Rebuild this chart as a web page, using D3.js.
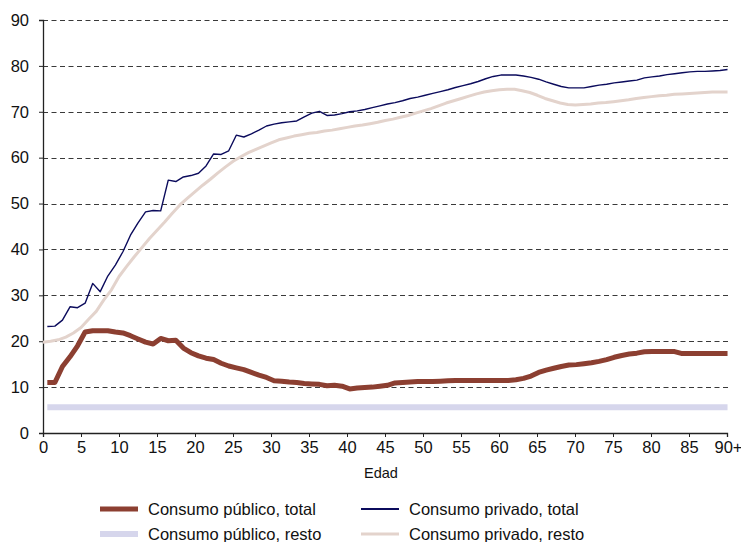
<!DOCTYPE html>
<html>
<head>
<meta charset="utf-8">
<script src="https://cdn.jsdelivr.net/npm/d3@7"></script>
<style>
  body { margin: 0; background: #fff; }
  #chart text { font-family: Arial, "Liberation Sans", sans-serif; fill: #111; }
</style>
</head>
<body>
<div id="chart"></div>
<script>

var width = 741;
var height = 542;

var marginLeft = 43;
var marginRight = 14;
var marginTop = 20;
var marginBottom = 109;

// edades 0 .. 90+
var edades = d3.range(0, 91);

var xTicks = [0,5,10,15,20,25,30,35,40,45,50,55,60,65,70,75,80,85,90];
var yTicks = [0,10,20,30,40,50,60,70,80,90];

var publicoTotal = [
	11.0,11.0,14.5,16.6,19.0,22.0,22.3,22.3,22.3,22.0,
	21.8,21.2,20.5,19.8,19.4,20.6,20.1,20.2,18.5,17.5,
	16.8,16.3,16.0,15.2,14.6,14.2,13.8,13.2,12.6,12.1,
	11.4,11.3,11.1,11.0,10.8,10.7,10.6,10.3,10.4,10.2,
	9.6,9.8,9.9,10.0,10.2,10.4,10.9,11.0,11.1,11.2,
	11.2,11.2,11.3,11.4,11.45,11.45,11.45,11.45,11.45,11.45,
	11.45,11.45,11.6,11.9,12.4,13.2,13.7,14.1,14.5,14.8,
	14.9,15.1,15.3,15.6,16.0,16.5,16.9,17.2,17.4,17.7,
	17.75,17.75,17.75,17.75,17.3,17.3,17.35,17.35,17.35,17.35,
	17.35
];

var publicoResto = [
	5.6,5.6,5.6,5.6,5.6,5.6,5.6,5.6,5.6,5.6,
	5.6,5.6,5.6,5.6,5.6,5.6,5.6,5.6,5.6,5.6,
	5.6,5.6,5.6,5.6,5.6,5.6,5.6,5.6,5.6,5.6,
	5.6,5.6,5.6,5.6,5.6,5.6,5.6,5.6,5.6,5.6,
	5.6,5.6,5.6,5.6,5.6,5.6,5.6,5.6,5.6,5.6,
	5.6,5.6,5.6,5.6,5.6,5.6,5.6,5.6,5.6,5.6,
	5.6,5.6,5.6,5.6,5.6,5.6,5.6,5.6,5.6,5.6,
	5.6,5.6,5.6,5.6,5.6,5.6,5.6,5.6,5.6,5.6,
	5.6,5.6,5.6,5.6,5.6,5.6,5.6,5.6,5.6,5.6,
	5.6
];

var privadoTotal = [
	23.2,23.3,24.6,27.5,27.3,28.3,32.6,30.8,34.2,36.6,
	39.5,43.1,45.8,48.2,48.5,48.4,55.1,54.8,55.8,56.1,
	56.6,58.2,60.8,60.7,61.5,64.9,64.5,65.2,66.0,66.9,
	67.3,67.6,67.8,68.0,68.9,69.7,70.1,69.2,69.3,69.6,
	70.0,70.2,70.5,70.9,71.3,71.7,72.0,72.4,72.9,73.2,
	73.6,74.0,74.4,74.8,75.3,75.7,76.1,76.6,77.2,77.7,
	78.0,78.0,78.0,77.8,77.5,77.1,76.5,76.0,75.5,75.2,
	75.2,75.2,75.5,75.8,76.0,76.3,76.5,76.7,76.9,77.4,
	77.6,77.8,78.1,78.3,78.5,78.7,78.8,78.8,78.9,79.0,
	79.2
];

var privadoResto = [
	19.8,20.0,20.3,20.9,21.8,23.0,24.8,26.5,29.0,31.2,
	34.1,36.3,38.4,40.4,42.4,44.2,46.0,47.9,49.7,51.2,
	52.6,54.0,55.3,56.7,58.0,59.2,60.2,61.1,61.8,62.5,
	63.2,63.9,64.3,64.7,65.0,65.3,65.5,65.8,66.0,66.3,
	66.6,66.9,67.1,67.4,67.7,68.1,68.4,68.8,69.2,69.7,
	70.2,70.7,71.3,71.9,72.4,72.9,73.4,73.9,74.3,74.6,
	74.8,74.9,74.9,74.6,74.2,73.6,72.9,72.4,71.9,71.6,
	71.5,71.6,71.7,71.9,72.0,72.2,72.4,72.6,72.9,73.1,
	73.3,73.5,73.6,73.8,73.9,74.0,74.1,74.2,74.3,74.3,
	74.3
];

var series = [
	{ nombre: 'Consumo público, resto', valores: publicoResto, color: '#d6d6ec', ancho: 6, desde: 0.57 },
	{ nombre: 'Consumo privado, resto', valores: privadoResto, color: '#e3d3cc', ancho: 3, desde: 0 },
	{ nombre: 'Consumo privado, total', valores: privadoTotal, color: '#0b0b5c', ancho: 1.4, desde: 0.57 },
	{ nombre: 'Consumo público, total', valores: publicoTotal, color: '#8c3f31', ancho: 5, desde: 0.57 }
];

var svg = d3.select('#chart')
	.append('svg')
	.attr('width', width)
	.attr('height', height)
	.style('background-color', '#fff');

var x = d3.scaleLinear()
	.domain([0, 90])
	.range([marginLeft, width - marginRight]);

var y = d3.scaleLinear()
	.domain([0, 90])
	.range([height - marginBottom, marginTop]);

// GRID
svg.append('g')
	.attr('class', 'grid')
	.selectAll('line')
	.data(yTicks.filter(function(d) { return d > 0; }))
	.enter()
	.append('line')
	.attr('x1', x(0))
	.attr('x2', x(90) + 4)
	.attr('y1', function(d) { return Math.round(y(d)) + 0.5; })
	.attr('y2', function(d) { return Math.round(y(d)) + 0.5; })
	.attr('stroke', '#3a3a3a')
	.attr('stroke-width', 1)
	.attr('stroke-dasharray', '5,3.5');

// AXIS
var yAxis = d3.axisLeft(y)
	.tickValues(yTicks)
	.tickSize(4)
	.tickPadding(10)
	.tickFormat(d3.format('d'));

var yAxisGroup = svg.append('g')
	.attr('transform', 'translate(' + x(0) + ',0)')
	.call(yAxis);

var xAxis = d3.axisBottom(x)
	.tickValues(xTicks)
	.tickSize(4)
	.tickPadding(4)
	.tickFormat(function(d) { return d === 90 ? '90+' : d; });

var xAxisGroup = svg.append('g')
	.attr('transform', 'translate(0,' + y(0) + ')')
	.call(xAxis);

[yAxisGroup, xAxisGroup].forEach(function(g) {
	g.select('.domain').attr('stroke', '#222').attr('stroke-width', 1.3);
	g.selectAll('.tick line').attr('stroke', '#222');
	g.selectAll('.tick text')
		.style('font-size', '16.5px')
		.style('font-family', 'Arial, "Liberation Sans", sans-serif')
		.attr('fill', '#111');
});

xAxisGroup.selectAll('.tick').filter(function(d) { return d === 90; })
	.select('text')
	.attr('text-anchor', 'start')
	.attr('dx', '-13');

svg.append('text')
	.attr('x', 381)
	.attr('y', 478)
	.attr('text-anchor', 'middle')
	.style('font-size', '14.5px')
	.text('Edad');

// LINES
function linea(s) {
	var xs = d3.scaleLinear()
		.domain([0, 90])
		.range([x(s.desde), x(90.07)]);
	return d3.line()
		.x(function(d, i) { return xs(edades[i]); })
		.y(function(d) { return y(d); })(s.valores);
}

svg.selectAll('.serie')
	.data(series)
	.enter()
	.append('path')
	.attr('class', 'serie')
	.attr('fill', 'none')
	.attr('stroke', function(d) { return d.color; })
	.attr('stroke-width', function(d) { return d.ancho; })
	.attr('stroke-linejoin', 'round')
	.attr('d', linea);

// LEGEND
var leyenda = [
	{ serie: series[3], col: 0, fila: 0 },
	{ serie: series[0], col: 0, fila: 1 },
	{ serie: series[2], col: 1, fila: 0 },
	{ serie: series[1], col: 1, fila: 1 }
];

var leg = svg.selectAll('.leg')
	.data(leyenda)
	.enter()
	.append('g')
	.attr('class', 'leg')
	.attr('transform', function(d) {
		return 'translate(' + (100 + d.col * 261) + ',' + (509 + d.fila * 25) + ')';
	});

leg.append('line')
	.attr('x1', 0)
	.attr('x2', 38)
	.attr('stroke', function(d) { return d.serie.color; })
	.attr('stroke-width', function(d) { return Math.max(d.serie.ancho, 2); });

leg.append('text')
	.attr('x', 48)
	.attr('y', 6)
	.style('font-size', '16.5px')
	.text(function(d) { return d.serie.nombre; });

</script>
</body>
</html>
